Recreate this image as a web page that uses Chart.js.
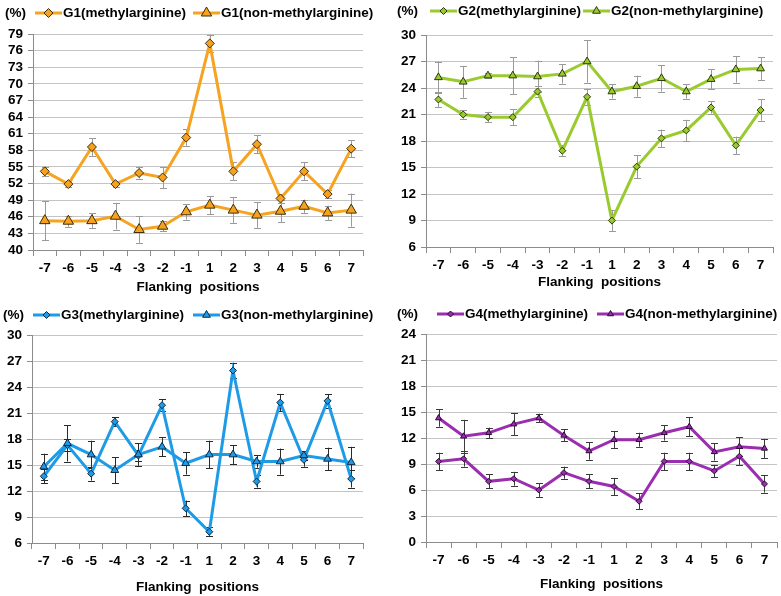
<!DOCTYPE html>
<html><head><meta charset="utf-8">
<script src="https://cdn.jsdelivr.net/npm/chart.js@4/dist/chart.umd.min.js"></script>
<style>
html,body{margin:0;padding:0;background:#fff}
body{width:781px;height:596px;position:relative;overflow:hidden}
canvas{position:absolute;display:block}
</style></head><body>
<canvas id="c1" width="390" height="300" style="left:0;top:0"></canvas>
<canvas id="c2" width="391" height="300" style="left:390px;top:0"></canvas>
<canvas id="c3" width="390" height="296" style="left:0;top:300px"></canvas>
<canvas id="c4" width="391" height="296" style="left:390px;top:300px"></canvas>
<script>
// ---------- DATA ----------
const positions = ['-7','-6','-5','-4','-3','-2','-1','1','2','3','4','5','6','7'];
const xTitle = 'Flanking  positions';
const yUnit = '(%)';

const g1Names = ['G1(methylarginine)', 'G1(non-methylarginine)'];
const g1Methyl    = [54.2, 51.9, 58.6, 51.9, 53.9, 53.1, 60.3, 77.3, 54.2, 59.1, 49.3, 54.2, 50.1, 58.3];
const g1MethylErr = [0.8, 0.6, 1.6, 0.6, 1.0, 1.9, 1.5, 1.6, 1.6, 1.6, 0.8, 1.6, 0.7, 1.5];
const g1Non       = [45.3, 45.2, 45.3, 46.1, 43.7, 44.3, 46.9, 48.1, 47.2, 46.3, 47.0, 47.9, 46.7, 47.2];
const g1NonErr    = [3.5, 1.0, 1.3, 2.4, 2.4, 0.9, 1.4, 1.6, 2.3, 2.3, 2.0, 1.2, 1.3, 3.0];
const g1YTicks = [40, 79, 3];

const g2Names = ['G2(methylarginine)', 'G2(non-methylarginine)'];
const g2Methyl    = [22.7, 21.0, 20.7, 20.7, 23.6, 16.9, 23.0, 9.0, 15.1, 18.3, 19.2, 21.8, 17.5, 21.5];
const g2MethylErr = [0.9, 0.5, 0.6, 0.9, 0.6, 0.6, 0.9, 1.2, 1.3, 1.0, 1.2, 0.7, 1.0, 1.2];
const g2Non       = [25.2, 24.7, 25.4, 25.4, 25.3, 25.6, 27.0, 23.6, 24.2, 25.1, 23.6, 25.0, 26.1, 26.2];
const g2NonErr    = [1.8, 1.8, 0.3, 2.1, 1.8, 1.1, 2.4, 0.8, 1.2, 1.5, 0.8, 1.1, 1.5, 1.3];
const g2YTicks = [6, 30, 3];

const g3Names = ['G3(methylarginine)', 'G3(non-methylarginine)'];
const g3Methyl    = [13.7, 17.3, 14.0, 20.0, 16.1, 21.9, 10.0, 7.3, 25.9, 13.1, 22.2, 15.6, 22.4, 13.4];
const g3MethylErr = [0.8, 0.7, 0.8, 0.5, 0.6, 0.7, 0.9, 0.5, 0.9, 0.7, 1.0, 0.8, 0.8, 1.0];
const g3Non       = [14.8, 17.5, 16.2, 14.4, 16.2, 17.1, 15.2, 16.2, 16.2, 15.4, 15.4, 16.1, 15.7, 15.3];
const g3NonErr    = [1.5, 2.1, 1.6, 1.5, 1.3, 1.1, 1.3, 1.6, 1.1, 0.7, 1.5, 0.5, 1.3, 1.8];
const g3YTicks = [6, 30, 3];

const g4Names = ['G4(methylarginine)', 'G4(non-methylarginine)'];
const g4Methyl    = [9.3, 9.6, 7.0, 7.3, 6.0, 8.0, 7.0, 6.4, 4.7, 9.3, 9.3, 8.2, 9.9, 6.7];
const g4MethylErr = [1.0, 0.9, 0.8, 0.8, 0.8, 0.7, 0.8, 1.0, 0.9, 1.0, 1.0, 0.7, 1.0, 1.0];
const g4Non       = [14.3, 12.2, 12.6, 13.6, 14.3, 12.3, 10.5, 11.8, 11.8, 12.6, 13.3, 10.4, 11.0, 10.8];
const g4NonErr    = [1.0, 1.9, 0.6, 1.3, 0.5, 0.7, 1.0, 1.0, 0.8, 0.9, 1.1, 1.0, 1.1, 1.1];
const g4YTicks = [0, 24, 3];

// ---------- STYLE / LAYOUT ----------
const FONT = "'Liberation Sans', Arial, sans-serif";
const panels = [
  {id:'c1', names:g1Names, vals:[g1Methyl,g1Non], errs:[g1MethylErr,g1NonErr], yt:g1YTicks,
   color:'#F5A320', fill:'#F7A21E', edge:'#3d2e0a', err:'#9a9a9a', rad:[4.5,6], lw:3,
   area:{l:33,t:34,r:363,b:250}, padB:5, legY:13, legX:[35,193], pctX:5},
  {id:'c2', names:g2Names, vals:[g2Methyl,g2Non], errs:[g2MethylErr,g2NonErr], yt:g2YTicks,
   color:'#9ACB2E', fill:'#9ACB2E', edge:'#2d3a0c', err:'#9a9a9a', rad:[3.5,4.5], lw:3,
   area:{l:36,t:35,r:383,b:247}, padB:10, legY:11, legX:[40,193], pctX:7},
  {id:'c3', names:g3Names, vals:[g3Methyl,g3Non], errs:[g3MethylErr,g3NonErr], yt:g3YTicks,
   color:'#1E9BE6', fill:'#1E9BE6', edge:'#0d2a45', err:'#2a2a2a', rad:[3.5,4.5], lw:3,
   area:{l:32,t:35,r:363,b:243}, padB:1, legY:15, legX:[33,193], pctX:3},
  {id:'c4', names:g4Names, vals:[g4Methyl,g4Non], errs:[g4MethylErr,g4NonErr], yt:g4YTicks,
   color:'#9B2DB0', fill:'#9B2DB0', edge:'#2b0b33', err:'#3a3a3a', rad:[3,3.5], lw:3,
   area:{l:36,t:34,r:387,b:242}, padB:4, legY:14, legX:[47,207], pctX:7},
];

function drawMarker(ctx, style, r, x, y, fill, edge){
  ctx.save();
  ctx.beginPath();
  if(style === 'rectRot'){
    ctx.moveTo(x, y-r); ctx.lineTo(x+r, y); ctx.lineTo(x, y+r); ctx.lineTo(x-r, y); ctx.closePath();
  } else {
    const w = r*0.866*2;
    ctx.moveTo(x, y-r); ctx.lineTo(x+w/2, y+r*0.5); ctx.lineTo(x-w/2, y+r*0.5); ctx.closePath();
  }
  ctx.fillStyle = fill; ctx.fill();
  ctx.lineWidth = 1; ctx.strokeStyle = edge; ctx.stroke();
  ctx.restore();
}

const errorBars = {
  id:'errorBars',
  beforeDatasetsDraw(chart, args, opts){
    const ctx = chart.ctx, ys = chart.scales.y;
    ctx.save();
    ctx.strokeStyle = opts.color; ctx.lineWidth = 1;
    chart.data.datasets.forEach((ds, di) => {
      const meta = chart.getDatasetMeta(di);
      ds.errors.forEach((e, i) => {
        const p = meta.data[i]; if(!p) return;
        const x = Math.round(p.x)+0.5;
        const y1 = ys.getPixelForValue(ds.data[i]+e), y2 = ys.getPixelForValue(ds.data[i]-e);
        ctx.beginPath();
        ctx.moveTo(x, y1); ctx.lineTo(x, y2);
        ctx.moveTo(x-3.5, Math.round(y1)+0.5); ctx.lineTo(x+3.5, Math.round(y1)+0.5);
        ctx.moveTo(x-3.5, Math.round(y2)+0.5); ctx.lineTo(x+3.5, Math.round(y2)+0.5);
        ctx.stroke();
      });
    });
    ctx.restore();
  }
};

const customLegend = {
  id:'customLegend',
  afterDraw(chart, args, o){
    const ctx = chart.ctx;
    ctx.save();
    ctx.font = 'bold 13.5px ' + FONT;
    ctx.fillStyle = '#000'; ctx.textBaseline = 'middle'; ctx.textAlign = 'left';
    ctx.fillText(o.pct, o.pctX, o.y);
    chart.data.datasets.forEach((ds, di) => {
      const x = o.xs[di];
      ctx.strokeStyle = ds.borderColor; ctx.lineWidth = ds.borderWidth;
      ctx.beginPath(); ctx.moveTo(x, o.y); ctx.lineTo(x+27, o.y); ctx.stroke();
      drawMarker(ctx, ds.markerStyle, ds.markerRadius, x+13.5, o.y, ds.markerFill, ds.markerEdge);
      ctx.fillStyle = '#000';
      ctx.fillText(ds.label, x+28, o.y);
    });
    ctx.restore();
  }
};

const markers = {
  id:'markers',
  afterDatasetsDraw(chart){
    const ctx = chart.ctx;
    chart.data.datasets.forEach((ds, di) => {
      const meta = chart.getDatasetMeta(di);
      meta.data.forEach(p => drawMarker(ctx, ds.markerStyle, ds.markerRadius, p.x, p.y, ds.markerFill, ds.markerEdge));
    });
  }
};

panels.forEach(P => {
  const cv = document.getElementById(P.id);
  const W = cv.width, H = cv.height, A = P.area;
  const styles = ['rectRot','triangle'];
  new Chart(cv, {
    type:'line',
    data:{
      labels: positions,
      datasets: P.vals.map((v, k) => ({
        label: P.names[k], data: v, errors: P.errs[k],
        borderColor: P.color, borderWidth: P.lw, tension: 0,
        pointRadius: 0, pointHoverRadius: 0,
        markerStyle: styles[k], markerRadius: P.rad[k], markerFill: P.fill, markerEdge: P.edge
      }))
    },
    options:{
      responsive:false, animation:false, devicePixelRatio:1,
      layout:{padding:{left:0, top:A.t, right:W-A.r, bottom:P.padB}},
      plugins:{
        legend:{display:false}, tooltip:{enabled:false},
        errorBars:{color:P.err},
        customLegend:{pct:yUnit, pctX:P.pctX, y:P.legY, xs:P.legX}
      },
      scales:{
        x:{
          type:'category', offset:true,
          grid:{display:true, offset:true, drawOnChartArea:false, drawTicks:true, tickLength:6, color:'#8c8c8c', lineWidth:1},
          border:{display:true, color:'#8c8c8c', width:1},
          ticks:{color:'#000', font:{family:FONT, size:13.5, weight:'bold'}, padding:4, maxRotation:0, autoSkip:false},
          title:{display:true, text:xTitle, color:'#000', font:{family:FONT, size:13.5, weight:'bold'}, padding:0},
          afterFit(s){ s.height = H - P.padB - A.b; }
        },
        y:{
          min:P.yt[0], max:P.yt[1],
          grid:{color:'#c4c4c4', lineWidth:1, tickLength:5, tickColor:'#8c8c8c'},
          border:{display:true, color:'#8c8c8c', width:1},
          ticks:{stepSize:P.yt[2], autoSkip:false, color:'#000', font:{family:FONT, size:13.5, weight:'bold'}, padding:5},
          afterFit(s){ s.width = A.l; }
        }
      }
    },
    plugins:[errorBars, markers, customLegend]
  });
});
</script>
</body></html>
